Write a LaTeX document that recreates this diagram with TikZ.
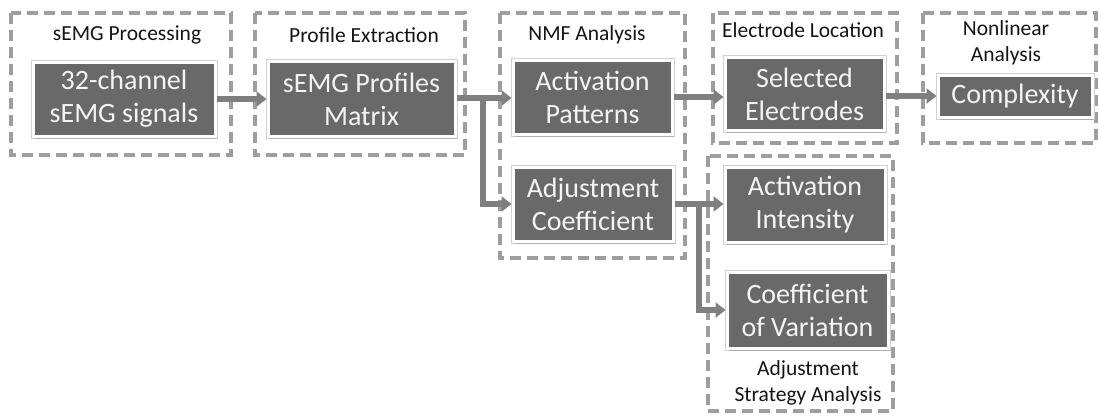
\documentclass[tikz,border=0pt]{standalone}
\usepackage{fontspec}
\setmainfont{Carlito}
\usetikzlibrary{arrows.meta,shadows}
\definecolor{boxfill}{HTML}{696969}
\definecolor{boxtext}{HTML}{F4F4F4}
\definecolor{arrowc}{HTML}{7F7F7F}
\definecolor{dashc}{HTML}{9E9E9E}
\definecolor{labelc}{HTML}{141414}
\tikzset{
  procbox/.style={draw=white, line width=3pt, fill=boxfill, text=boxtext,
    align=center, inner sep=0pt, font=\fontsize{28}{33}\selectfont,
    preaction={draw=black!18, line width=5pt},
    drop shadow={shadow xshift=1.5pt, shadow yshift=-2.5pt, opacity=0.4, fill=black!50}},
  groupbox/.style={draw=dashc, line width=3.2pt, dash pattern=on 11pt off 6pt},
  grouplabel/.style={text=labelc, align=center, inner sep=0pt, font=\fontsize{21.5}{26}\selectfont},
  flow/.style={draw=arrowc, line width=6.5pt, -{Triangle[width=15pt,length=10pt]}}
}
\begin{document}
\begin{tikzpicture}[x=1pt,y=-1pt]
\useasboundingbox (0,0) rectangle (1099,416);
% group frames
\draw[groupbox] (11,13) rectangle (231,155);
\draw[groupbox] (255,13) rectangle (465,155);
\draw[groupbox] (500,13) rectangle (685,258);
\draw[groupbox] (713,13) rectangle (897,143);
\draw[groupbox] (923,13) rectangle (1096,143);
\draw[groupbox] (708,156) rectangle (893,411);
% group labels
\node[grouplabel] (l1) at (127,35) {sEMG Processing};
\node[grouplabel] (l2) at (364,35) {Profile Extraction};
\node[grouplabel] (l3) at (587,35) {NMF Analysis};
\node[grouplabel] (l4) at (803,30) {Electrode Location};
\node[grouplabel] (l5) at (1006,43) {Nonlinear\\Analysis};
\node[grouplabel] (l6) at (808,383) {Adjustment\\Strategy Analysis};
% process boxes
\node[procbox, minimum width=182pt, minimum height=74pt] (n1) at (124,99) {32-channel\\sEMG signals};
\node[procbox, minimum width=187pt, minimum height=75pt] (n2) at (361.5,99) {sEMG Profiles\\Matrix};
\node[procbox, minimum width=159pt, minimum height=74pt] (n3) at (592.5,97) {Activation\\Patterns};
\node[procbox, minimum width=160pt, minimum height=74pt] (n4) at (593,204) {Adjustment\\Coefficient};
\node[procbox, minimum width=159pt, minimum height=73pt] (n5) at (804.5,94) {Selected\\Electrodes};
\node[procbox, minimum width=154pt, minimum height=42pt] (n6) at (1015,96) {Complexity};
\node[procbox, minimum width=160pt, minimum height=75pt] (n7) at (805,204.5) {Activation\\Intensity};
\node[procbox, minimum width=161pt, minimum height=76pt] (n8) at (807.5,310) {Coefficient\\of Variation};
% connectors
\coordinate (b1) at (483,98);
\coordinate (b2) at (699,204);
\draw[flow] (n1.east) -- (n1.east -| n2.west);
\draw[flow] (n2.east |- b1) -- (b1 -| n3.west);
\draw[flow] (b1) |- (n4.west);
\draw[flow] (n3.east |- 0,97) -- (n5.west |- 0,97);
\draw[flow] (n5.east |- 0,96) -- (n6.west);
\draw[flow] (n4.east) -- (n4.east -| n7.west);
\draw[flow] (b2) |- (n8.west);
\end{tikzpicture}
\end{document}
